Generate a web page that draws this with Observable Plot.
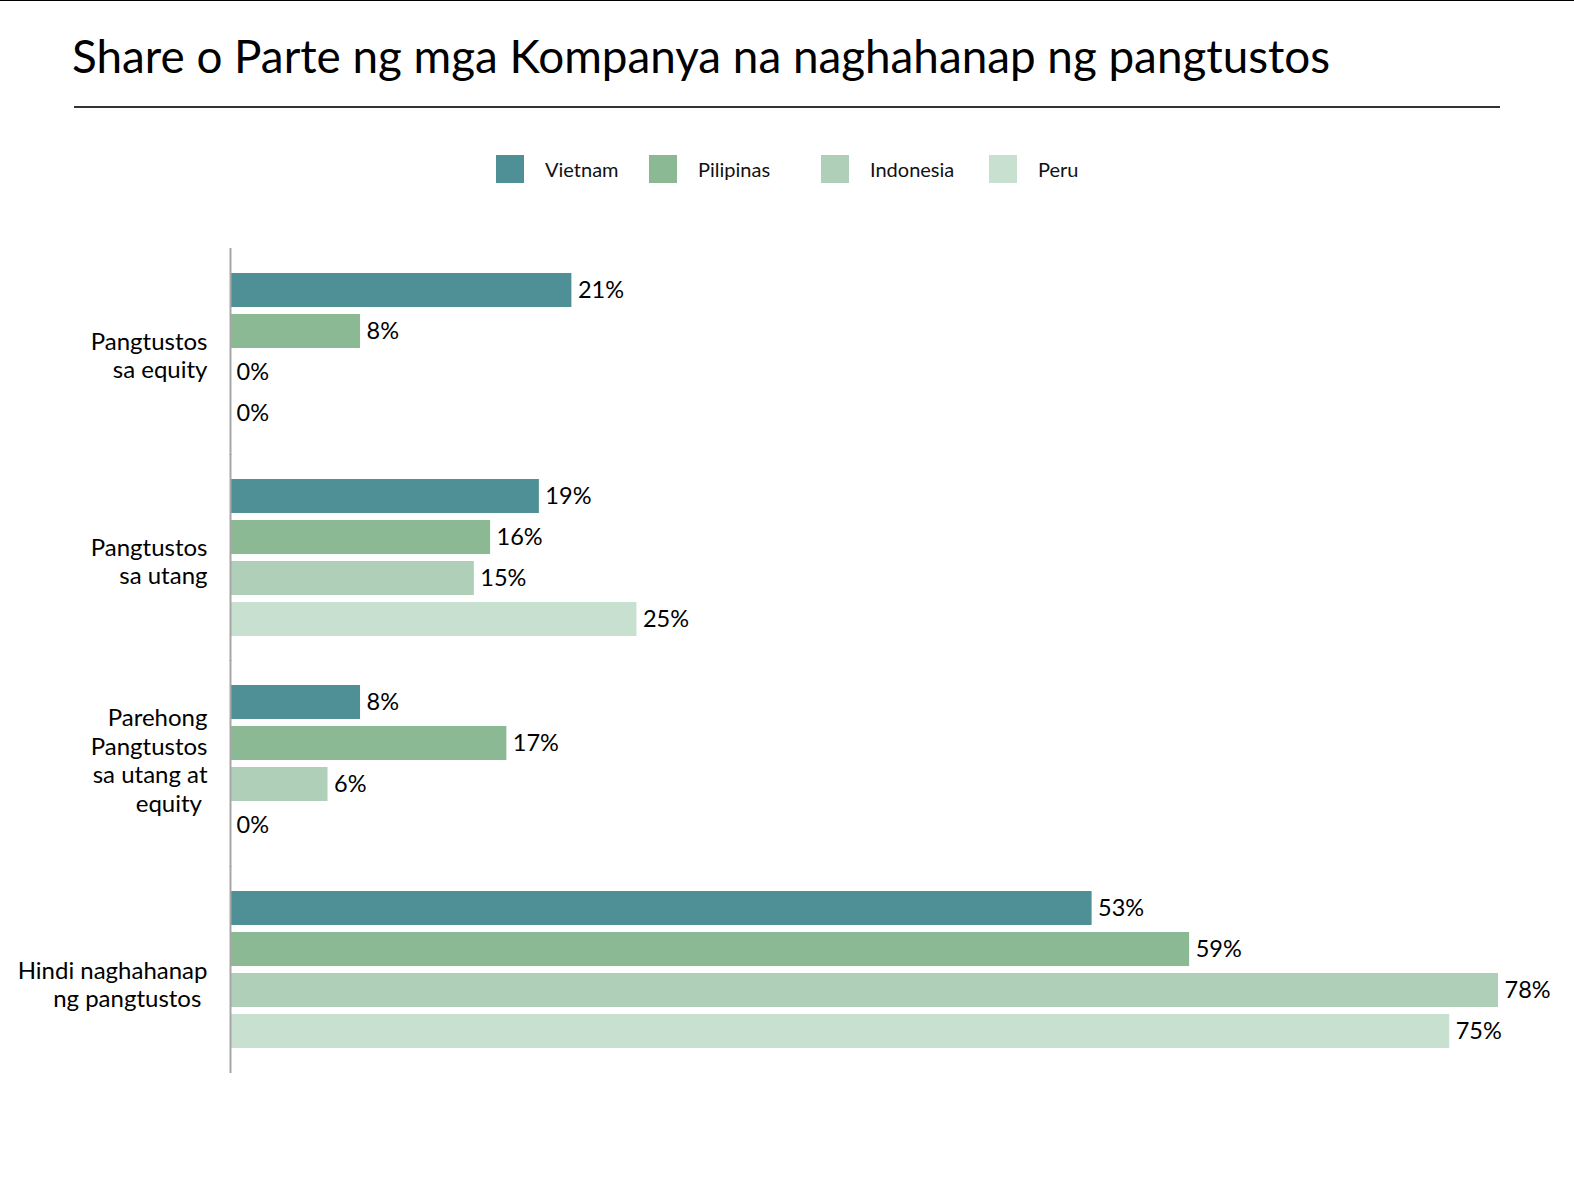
<!DOCTYPE html>
<html>
<head>
<meta charset="utf-8">
<script src="https://cdn.jsdelivr.net/npm/d3@7"></script>
<script src="https://cdn.jsdelivr.net/npm/@observablehq/plot@0.6"></script>
<style>
  html, body { margin: 0; padding: 0; background: #fff; }
  body { width: 1574px; height: 1182px; overflow: hidden; font-family: Lato, "Noto Sans", sans-serif; }
  #header { position: relative; height: 200px; border-top: 1.5px solid #000; box-sizing: border-box; }
  #title { position: absolute; left: 72px; top: 28px; font-size: 45.8px; line-height: 54px; color: #000; white-space: nowrap; }
  #rule { position: absolute; left: 74px; top: 105px; width: 1426px; height: 1.5px; background: #333; }
  .item { position: absolute; top: 154px; height: 28px; display: flex; align-items: center; white-space: nowrap; }
  .sw { width: 28px; height: 28px; margin-right: 21px; }
  .lab { font-size: 20px; color: #111; }
  #chart svg { display: block; }
</style>
</head>
<body>
<div id="header">
  <div id="title"></div>
  <div id="rule"></div>
  <div id="legend"></div>
</div>
<div id="chart"></div>
<script>
const title = "Share o Parte ng mga Kompanya na naghahanap ng pangtustos";
const categories = ["Pangtustos sa equity", "Pangtustos sa utang", "Parehong Pangtustos sa utang at equity", "Hindi naghahanap ng pangtustos"];
const categoryLabels = ["Pangtustos\nsa equity", "Pangtustos\nsa utang", "Parehong\nPangtustos\nsa utang at\nequity\u00a0", "Hindi naghahanap\nng pangtustos\u00a0"];
const countries = ["Vietnam", "Pilipinas", "Indonesia", "Peru"];
const vietnam = [21, 19, 8, 53];
const pilipinas = [8, 16, 17, 59];
const indonesia = [0, 15, 6, 78];
const peru = [0, 25, 0, 75];
const colors = ["#4f8f96", "#8ab994", "#b0cfb9", "#c8e0d0"];

document.getElementById("title").textContent = title;

// legend layout
const legendLeft = [496, 649, 821, 989];
const legend = document.getElementById("legend");
countries.forEach((c, i) => {
  const item = document.createElement("div");
  item.className = "item";
  item.style.left = legendLeft[i] + "px";
  const sw = document.createElement("div");
  sw.className = "sw";
  sw.style.background = colors[i];
  const lab = document.createElement("span");
  lab.className = "lab";
  lab.textContent = c;
  item.appendChild(sw);
  item.appendChild(lab);
  legend.appendChild(item);
});

const series = [vietnam, pilipinas, indonesia, peru];
const data = [];
categories.forEach((cat, ci) => {
  countries.forEach((c, si) => {
    data.push({category: cat, country: c, value: series[si][ci]});
  });
});

// vertical nudges of the category labels (layout only)
const labelNudge = [3, 3, -4, 14];

const chart = Plot.plot({
  width: 1574,
  height: 982,
  marginTop: 48,
  marginBottom: 108,
  marginLeft: 230,
  marginRight: 76,
  x: {domain: [0, 78], axis: null},
  y: {domain: countries, paddingInner: 0.18, paddingOuter: 0.09, axis: null},
  fy: {domain: categories, paddingInner: 0.197, paddingOuter: 0.097, axis: null},
  color: {domain: countries, range: colors},
  style: {fontFamily: "Lato, 'Noto Sans', sans-serif", background: "#fff", overflow: "visible"},
  marks: [
    Plot.barX(data, {x: "value", y: "country", fy: "category", fill: "country"}),
    Plot.text(data, {x: "value", y: "country", fy: "category", text: d => d.value + "%", textAnchor: "start", dx: 6, fontSize: 23.5, fill: "#000"}),
    ...categories.map((cat, i) =>
      Plot.text([cat], {fy: d => d, text: () => categoryLabels[i], frameAnchor: "left", dx: -23, dy: labelNudge[i], textAnchor: "end", lineHeight: 1.19, fontSize: 24, fill: "#000"})
    ),
    Plot.ruleX([0], {stroke: "#a6a6a6", strokeWidth: 2, insetTop: -21, insetBottom: -21})
  ]
});
document.getElementById("chart").appendChild(chart);
</script>
</body>
</html>
